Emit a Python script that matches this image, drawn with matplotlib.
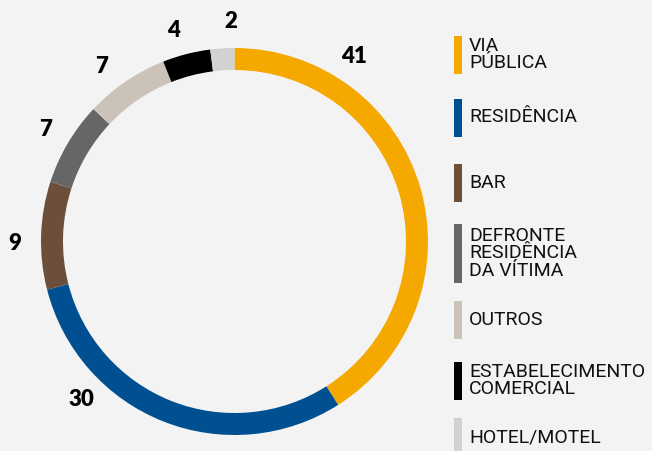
import matplotlib
matplotlib.use('Agg')
import matplotlib.pyplot as plt
from matplotlib.patches import Rectangle
import numpy as np

# dados
categorias = ['VIA\nPÚBLICA', 'RESIDÊNCIA', 'BAR', 'DEFRONTE\nRESIDÊNCIA\nDA VÍTIMA',
              'OUTROS', 'ESTABELECIMENTO\nCOMERCIAL', 'HOTEL/MOTEL']
valores = [41, 30, 9, 7, 7, 4, 2]
cores = ['#f5a800', '#005091', '#6b4f3a', '#666666', '#cbc2b9', '#000000', '#d2d2d2']
# angulo (graus) onde fica cada numero
ang_rotulos = [57, 226, 180.5, 149.3, 127.3, 106, 91]

W, H = 652, 451
fundo = '#f3f3f3'

fig = plt.figure(figsize=(W / 100, H / 100), dpi=100, facecolor=fundo)
ax = fig.add_axes([0, 0, 1, 1])
ax.set_facecolor(fundo)

cx, cy, R = 234.5, H - 241.5, 193.5
ax.pie(valores, colors=cores, startangle=90, counterclock=False,
       center=(cx, cy), radius=R, wedgeprops=dict(width=22, linewidth=0))

# numeros em volta do anel
r_txt = 220
for v, a in zip(valores, ang_rotulos):
    t = np.deg2rad(a)
    ax.text(cx + r_txt * np.cos(t), cy + r_txt * np.sin(t), str(v),
            ha='center', va='center', fontsize=16, fontweight='heavy',
            family='Lato', color='black')

# legenda
centros = [54.5, 117.5, 182.5, 253.5, 320, 380.5, 437]
for cat, cor, yc in zip(categorias, cores, centros):
    alt = 59 if cat.count('\n') == 2 else 38
    ax.add_patch(Rectangle((454, H - yc - alt / 2), 8, alt, color=cor, lw=0))
    ax.text(469, H - yc, cat, ha='left', va='center', fontsize=14,
            family='Roboto', color='#111111', linespacing=0.97)

ax.set_xlim(0, W)
ax.set_ylim(0, H)
ax.set_aspect('auto')
ax.axis('off')

fig.savefig('out.png', dpi=100, facecolor=fundo)
